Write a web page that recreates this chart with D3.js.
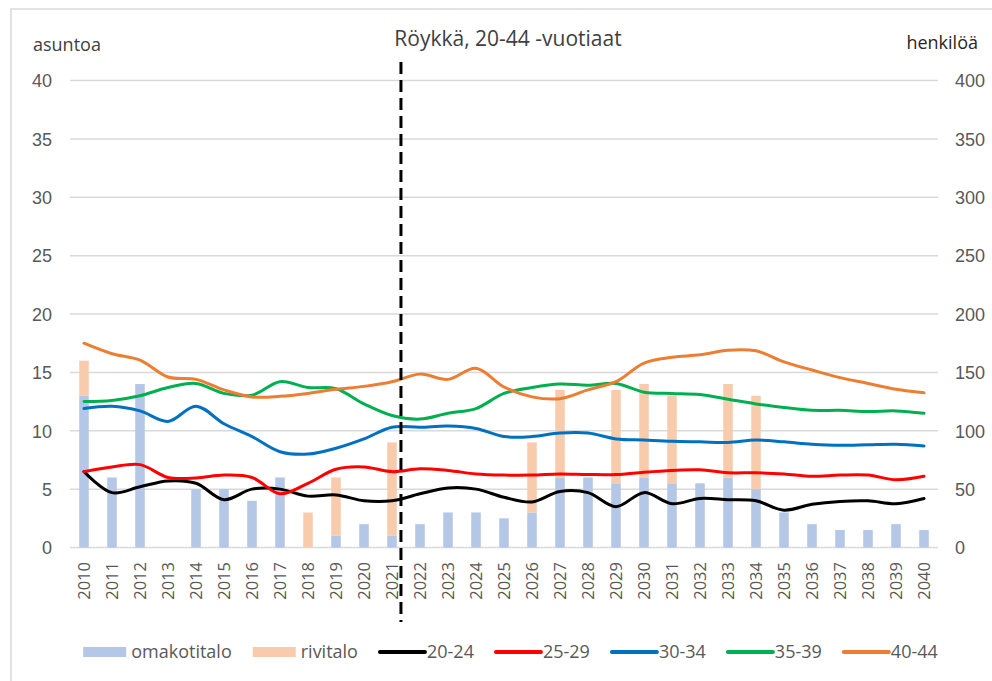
<!DOCTYPE html>
<html>
<head>
<meta charset="utf-8">
<script src="https://cdn.jsdelivr.net/npm/d3@7"></script>
<style>
  body { margin: 0; background: #fff; }
  svg { display: block; font-family: 'Open Sans', sans-serif; }
</style>
</head>
<body>
<svg id="chart" width="992" height="681"></svg>
<script>
// vuodet
const years = ['2010','2011','2012','2013','2014','2015','2016','2017','2018','2019','2020',
  '2021','2022','2023','2024','2025','2026','2027','2028','2029','2030',
  '2031','2032','2033','2034','2035','2036','2037','2038','2039','2040']

// asuntoa (vasen akseli)
const omakotitalo = [13,6,14,0,5,5,4,6,0,1,2,1,2,3,3,2.5,3,6,6,5.5,6,5.5,5.5,6,5,3,2,1.5,1.5,2,1.5]
const rivitalo = [3,0,0,0,0,0,0,0,3,5,0,8,0,0,0,0,6,7.5,0,8,8,7.5,0,8,8,0,0,0,0,0,0]

// henkilöä (oikea akseli)
const p20_24 = [65,47,52,57,55,41,50,50,44,45,40,40,46,51,50,43,39,48,47,35,47,37.5,42,41,40,32,37,39.5,40,37.5,42]
const p25_29 = [65,69,71,60,59.5,62,60,46,55,67,69,65,67.5,66,63,62,62,63,62.5,62.5,64.5,66,66.5,64,64,63,61,62,62,58,61]
const p30_34 = [119,121,117,108,121,106,95,82,80,85,93,103,103,104,102,95,95,98,98,93,92,91,90.5,90,92,90.5,88.5,87.5,88,88.5,87]
const p35_39 = [125,126,130,137,140.5,132,130.5,142,137,136,123,113,110,115,119,132,137,140,139,140.5,133,132,131,127,123,120,117.5,117.5,116.5,117,115]
const p40_44 = [175,166,160.5,146,144,135,129,129.5,132,135.5,138,142,148.5,144,153.5,137.5,129,127.5,135,142,158,163,165,169,168.5,159,152,145.5,140.5,135.5,132.5]

const leftTicks = [0,5,10,15,20,25,30,35,40]
const rightTicks = [0,50,100,150,200,250,300,350,400]
const splitYear = '2021'

const series = [
  {name: '20-24', values: p20_24, color: '#000000'},
  {name: '25-29', values: p25_29, color: '#ff0000'},
  {name: '30-34', values: p30_34, color: '#0070c0'},
  {name: '35-39', values: p35_39, color: '#00b050'},
  {name: '40-44', values: p40_44, color: '#ed7d31'}
]
const barColors = {omakotitalo: '#b4c7e7', rivitalo: '#f8cbad'}

let svg = d3.select('#chart')

// kehys
svg.append('rect')
  .attr('x', 11).attr('y', 9).attr('width', 1000).attr('height', 700)
  .attr('fill', 'none').attr('stroke', '#d9d9d9').attr('stroke-width', 1.5)

let x = d3.scaleBand().domain(years).range([70, 938]).padding(0)
let bw = x.bandwidth()
let yL = d3.scaleLinear().domain([0, 40]).range([547.5, 80.5])
let yR = d3.scaleLinear().domain([0, 400]).range([547.5, 80.5])

// ruudukko
let leftAxis = d3.axisLeft(yL).tickValues(leftTicks).tickSize(0).tickPadding(0)
let gL = svg.append('g').attr('transform', 'translate(52,0)').call(leftAxis)
gL.select('.domain').remove()
gL.selectAll('text').attr('fill', '#595959').style('font-size', '18px')
  .attr('x', 0).attr('dy', '0.35em')

svg.append('g').selectAll('line')
  .data(leftTicks)
  .enter()
  .append('line')
  .attr('x1', 70).attr('x2', 938)
  .attr('y1', d => yL(d)).attr('y2', d => yL(d))
  .attr('stroke', '#d9d9d9').attr('stroke-width', 1.5)

let rightAxis = d3.axisRight(yR).tickValues(rightTicks).tickSize(0).tickPadding(0)
let gR = svg.append('g').attr('transform', 'translate(955,0)').call(rightAxis)
gR.select('.domain').remove()
gR.selectAll('text').attr('fill', '#595959').style('font-size', '18px')
  .attr('x', 0).attr('dy', '0.35em')

// pylväät (pinottu)
let stackData = years.map((yr, i) => ({year: yr, omakotitalo: omakotitalo[i], rivitalo: rivitalo[i]}))
let stacked = d3.stack().keys(['omakotitalo', 'rivitalo'])(stackData)
let barW = bw * 0.34

svg.append('g').selectAll('g')
  .data(stacked)
  .enter()
  .append('g')
  .attr('fill', d => barColors[d.key])
  .selectAll('rect')
  .data(d => d)
  .enter()
  .append('rect')
  .attr('x', d => x(d.data.year) + bw / 2 - barW / 2)
  .attr('width', barW)
  .attr('y', d => yL(d[1]))
  .attr('height', d => yL(d[0]) - yL(d[1]))

// x-akselin tekstit
svg.append('g').selectAll('text')
  .data(years)
  .enter()
  .append('text')
  .text(d => d)
  .attr('transform', d => 'translate(' + (x(d) + bw / 2) + ',562) rotate(-90)')
  .attr('text-anchor', 'end')
  .attr('dy', '0.35em')
  .attr('fill', '#595959')
  .style('font-size', '16.5px')

// viivat
let line = d3.line()
  .x((d, i) => x(years[i]) + bw / 2)
  .y(d => yR(d))
  .curve(d3.curveCatmullRom.alpha(0.5))

svg.append('g').selectAll('path')
  .data(series)
  .enter()
  .append('path')
  .attr('d', d => line(d.values))
  .attr('fill', 'none')
  .attr('stroke', d => d.color)
  .attr('stroke-width', 3)
  .attr('stroke-linejoin', 'round')
  .attr('stroke-linecap', 'round')

// katkoviiva
let splitX = x(splitYear) + bw / 2 + bw * 0.32
svg.append('line')
  .attr('x1', splitX).attr('x2', splitX)
  .attr('y1', 62).attr('y2', 622)
  .attr('stroke', '#000').attr('stroke-width', 3)
  .attr('stroke-dasharray', '12,6')

// otsikot
svg.append('text')
  .text('Röykkä, 20-44 -vuotiaat')
  .attr('x', 508).attr('y', 46)
  .attr('text-anchor', 'middle')
  .attr('fill', '#404040')
  .style('font-size', '21px')

svg.append('text')
  .text('asuntoa')
  .attr('x', 33).attr('y', 50.5)
  .attr('fill', '#404040')
  .style('font-size', '18px')

svg.append('text')
  .text('henkilöä')
  .attr('x', 978).attr('y', 48.5)
  .attr('text-anchor', 'end')
  .attr('fill', '#262626')
  .style('font-size', '18px')

// selite
let legendItems = [
  {name: 'omakotitalo', type: 'bar', color: barColors.omakotitalo},
  {name: 'rivitalo', type: 'bar', color: barColors.rivitalo}
].concat(series.map(s => ({name: s.name, type: 'line', color: s.color})))

let legend = svg.append('g')
let lx = 0
legendItems.forEach(item => {
  let g = legend.append('g').attr('transform', 'translate(' + lx + ',0)')
  if (item.type === 'bar') {
    g.append('rect').attr('x', 0).attr('y', -5).attr('width', 43).attr('height', 10).attr('fill', item.color)
  } else {
    g.append('line').attr('x1', 1).attr('x2', 46).attr('y1', 0).attr('y2', 0)
      .attr('stroke', item.color).attr('stroke-width', 4).attr('stroke-linecap', 'round')
  }
  let t = g.append('text').text(item.name)
    .attr('x', item.type === 'bar' ? 48 : 48)
    .attr('dy', '0.35em')
    .attr('fill', '#595959')
    .style('font-size', '18px')
  lx += 48 + t.node().getComputedTextLength() + 21
})
let legendW = lx - 21
legend.attr('transform', 'translate(' + (510.5 - legendW / 2) + ',652)')
</script>
</body>
</html>
